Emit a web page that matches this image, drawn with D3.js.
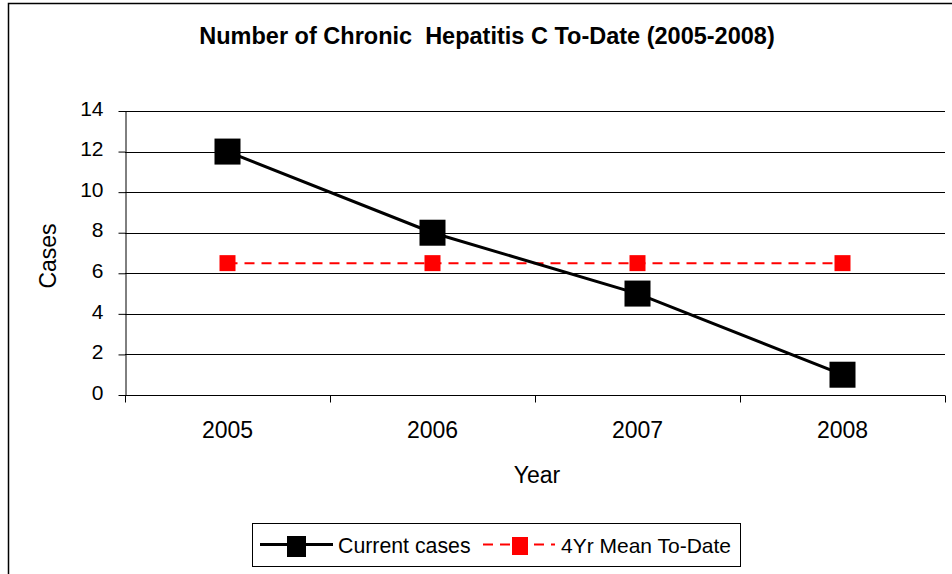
<!DOCTYPE html>
<html><head><meta charset="utf-8">
<script src="https://cdn.jsdelivr.net/npm/d3@7"></script>
<style>body{margin:0;background:#fff}svg{display:block;font-family:"Liberation Sans",Arial,sans-serif}</style>
</head><body><svg id="c" width="952" height="574"></svg>
<script>
const years = ["2005","2006","2007","2008"];
const currentCases = [12, 8, 5, 1];
const meanToDate = [6.5, 6.5, 6.5, 6.5];
const yTicks = [0,2,4,6,8,10,12,14];
const seriesNames = ["Current cases","4Yr Mean To-Date"];

const svg = d3.select("#c");
svg.append("rect").attr("x",8.5).attr("y",3.5).attr("width",960).attr("height",600)
  .attr("fill","#fff").attr("stroke","#000").attr("stroke-width",1.5);

const L=125,R=945,T=111,B=395;
const x = d3.scaleBand().domain(years).range([L,R]);
const y = d3.scaleLinear().domain([0,14]).range([B,T]);

// gridlines
svg.append("g").selectAll("line").data(yTicks.filter(d=>d>0)).join("line")
  .attr("x1",L).attr("x2",R).attr("y1",d=>Math.round(y(d))+0.5).attr("y2",d=>Math.round(y(d))+0.5)
  .attr("stroke","#000").attr("stroke-width",1);

const ya = svg.append("g").attr("transform",`translate(${L+0.5},0)`)
  .call(d3.axisLeft(y).tickValues(yTicks).tickSize(7).tickPadding(15).tickSizeOuter(0));
ya.select(".domain").attr("stroke","#000");
ya.selectAll("text").attr("font-size",21).attr("fill","#000").attr("dy","0.2em").attr("font-family","Liberation Sans, Arial");
ya.selectAll(".tick line").attr("stroke","#000");

const xa = svg.append("g").attr("transform",`translate(0,${B+0.5})`)
  .call(d3.axisBottom(x).tickSize(0).tickPadding(26));
xa.select(".domain").remove();
xa.append("line").attr("x1",L).attr("x2",R).attr("stroke","#000");
xa.selectAll(".tick text").attr("font-size",23).attr("fill","#000").attr("font-family","Liberation Sans, Arial");
const bounds = [L].concat(years.map(d=>x(d)+x.bandwidth()));
xa.selectAll("line.bt").data(bounds).join("line").attr("class","bt")
  .attr("x1",d=>Math.round(d)+0.5).attr("x2",d=>Math.round(d)+0.5).attr("y1",0).attr("y2",7).attr("stroke","#000");

const cx = d => x(d)+x.bandwidth()/2;
// mean line
svg.append("path").datum(meanToDate)
  .attr("d", d3.line().x((d,i)=>cx(years[i])).y(d=>y(d)))
  .attr("fill","none").attr("stroke","#ff0000").attr("stroke-width",2).attr("stroke-dasharray","10,7");
svg.append("g").selectAll("rect").data(meanToDate).join("rect")
  .attr("x",(d,i)=>cx(years[i])-8).attr("y",d=>y(d)-8).attr("width",16).attr("height",16).attr("fill","#ff0000");
// current line
svg.append("path").datum(currentCases)
  .attr("d", d3.line().x((d,i)=>cx(years[i])).y(d=>y(d)))
  .attr("fill","none").attr("stroke","#000").attr("stroke-width",3);
svg.append("g").selectAll("rect").data(currentCases).join("rect")
  .attr("x",(d,i)=>cx(years[i])-13).attr("y",d=>y(d)-13).attr("width",26).attr("height",26).attr("fill","#000");

// title and axis labels
svg.append("text").attr("x",487).attr("y",44).attr("text-anchor","middle")
  .attr("font-size",23.5).attr("font-weight","bold").style("white-space","pre")
  .text("Number of Chronic  Hepatitis C To-Date (2005-2008)");
svg.append("text").attr("transform","translate(56,256) rotate(-90)").attr("text-anchor","middle")
  .attr("font-size",23).text("Cases");
svg.append("text").attr("x",537).attr("y",483).attr("text-anchor","middle").attr("font-size",23).text("Year");

// legend
const lg = svg.append("g");
lg.append("rect").attr("x",252.5).attr("y",523.5).attr("width",488).attr("height",43).attr("fill","#fff").attr("stroke","#000");
lg.append("line").attr("x1",260).attr("x2",333).attr("y1",544.5).attr("y2",544.5).attr("stroke","#000").attr("stroke-width",3);
lg.append("rect").attr("x",287).attr("y",536).attr("width",19).attr("height",21).attr("fill","#000");
lg.append("text").attr("x",338).attr("y",553).attr("font-size",21.3).text(seriesNames[0]);
lg.append("line").attr("x1",483).attr("x2",555).attr("y1",544.5).attr("y2",544.5).attr("stroke","#ff0000").attr("stroke-width",2).attr("stroke-dasharray","10,7");
lg.append("rect").attr("x",512).attr("y",537).attr("width",16).attr("height",18).attr("fill","#ff0000");
lg.append("text").attr("x",561).attr("y",553).attr("font-size",21).text(seriesNames[1]);
</script></body></html>
